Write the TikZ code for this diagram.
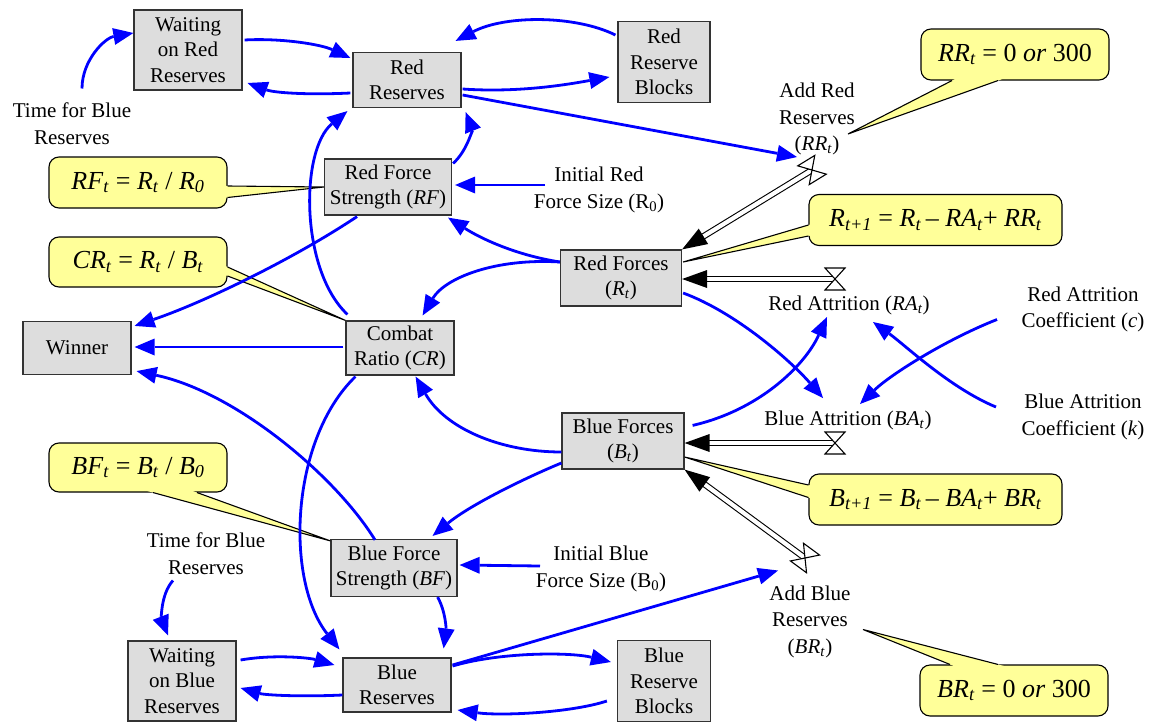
\documentclass[tikz,border=0pt]{standalone}
\usepackage{fontspec}
\setmainfont{Liberation Serif}
\usetikzlibrary{arrows.meta,calc}
\definecolor{cyellow}{HTML}{FFFF99}
\definecolor{boxgray}{HTML}{DDDDDD}
\definecolor{boxline}{HTML}{333333}
\definecolor{linkblue}{HTML}{0000FF}
\newcommand\boxfont{\fontsize{21pt}{25.5pt}\selectfont}
\newcommand\lblfont{\fontsize{21pt}{26.5pt}\selectfont}
\newcommand\calloutfont{\fontsize{26pt}{30pt}\selectfont}
\newcommand\vsub[2]{\textit{#1}\textsubscript{\textit{#2}}}
% pointer of a callout: base points #1, #2 on the box border, tip #3
\newcommand\callptr[3]{%
  \fill[cyellow] ($(#3)!1.08!(#1)$) -- (#3) -- ($(#3)!1.08!(#2)$) -- cycle;
  \draw[cline] (#1) -- (#3) -- (#2);}
% hourglass valve on a flow pipe
\newcommand\valve[2]{%
  \draw[valvestyle, shift={(#1)}, rotate=#2] (-10,-11) -- (10,-11) -- (-10,11) -- (10,11) -- cycle;}
\begin{document}
\begin{tikzpicture}[x=1pt,y=-1pt,
  box/.style={draw=boxline, fill=boxgray, line width=1.2pt, align=center, inner sep=0pt, font=\boxfont},
  lbl/.style={align=center, inner sep=0pt, font=\lblfont},
  callbox/.style={draw=black, fill=cyellow, line width=1.1pt, rounded corners=10pt, inner sep=0pt, font=\calloutfont},
  cline/.style={draw=black, line width=1.1pt, line join=miter},
  link/.style={draw=linkblue, line width=2.8pt, -{Triangle[length=20pt,width=17pt,line width=0pt]}},
  pipe/.style={draw=black, line width=1.1pt, double=white, double distance=4.2pt},
  pipehead/.style={draw=black, line width=1pt, -{Triangle[length=25pt,width=18pt,line width=0pt]}},
  valvestyle/.style={draw=black, fill=white, line width=1.1pt, line join=miter}]
\useasboundingbox (0,0) rectangle (1152,723);

% stocks and auxiliaries
\node[box, minimum width=108pt, minimum height=80pt] (wr) at (188,50) {Waiting\\on Red\\Reserves};
\node[box, minimum width=108pt, minimum height=55pt] (rr) at (407,80) {Red\\Reserves};
\node[box, minimum width=92pt, minimum height=81pt] (rb) at (664,62) {Red\\Reserve\\Blocks};
\node[box, minimum width=127pt, minimum height=56pt] (rf) at (388,187) {Red Force\\Strength (\textit{RF})};
\node[box, minimum width=108pt, minimum height=54pt] (cr) at (400,348) {Combat\\Ratio (\textit{CR})};
\node[box, minimum width=108pt, minimum height=53pt] (win) at (77,348) {Winner};
\node[box, minimum width=121pt, minimum height=56pt] (rfo) at (621,278) {Red Forces\\(\vsub{R}{t})};
\node[box, minimum width=122pt, minimum height=56pt] (bfo) at (623,441) {Blue Forces\\(\vsub{B}{t})};
\node[box, minimum width=126pt, minimum height=57pt] (bf) at (394,568) {Blue Force\\Strength (\textit{BF})};
\node[box, minimum width=108pt, minimum height=80pt] (wb) at (182,681) {Waiting\\on Blue\\Reserves};
\node[box, minimum width=108pt, minimum height=54pt] (br) at (397,685) {Blue\\Reserves};
\node[box, minimum width=93pt, minimum height=81pt] (bb) at (664,681) {Blue\\Reserve\\Blocks};

% free-standing variables
\node[lbl] (tfr) at (72,123.5) {Time for Blue\\Reserves};
\node[lbl] (arr) at (817,119) {Add Red\\Reserves\\(\vsub{RR}{t})};
\node[lbl] (irf) at (599,190) {Initial Red\\Force Size (R\textsubscript{0})};
\node[lbl] (rat) at (849,305) {Red Attrition (\vsub{RA}{t})};
\node[lbl] (bat) at (848,420) {Blue Attrition (\vsub{BA}{t})};
\node[lbl] (rac) at (1083,309.5) {Red Attrition\\Coefficient (\textit{c})};
\node[lbl] (bac) at (1083,417) {Blue Attrition\\Coefficient (\textit{k})};
\node[lbl] (tfb) at (206,553.5) {Time for Blue\\Reserves};
\node[lbl] (ibf) at (601,569) {Initial Blue\\Force Size (B\textsubscript{0})};
\node[lbl] (abr) at (810,621.5) {Add Blue\\Reserves\\(\vsub{BR}{t})};

% equation callouts
\node[callbox, minimum width=188pt, minimum height=51pt] (crr) at (1015,54.5) {\vsub{RR}{t} = 0 \textit{or} 300};
\coordinate (rrA) at ($(crr.south)+(-63,0)$);
\coordinate (rrB) at ($(crr.south)+(-17,0)$);
\coordinate (rrT) at ($(arr.center)+(31,15)$);
\callptr{rrA}{rrB}{rrT}

\node[callbox, minimum width=178pt, minimum height=51pt] (crf) at (138,182.5) {\vsub{RF}{t} = \vsub{R}{t} / \vsub{R}{0}};
\coordinate (rfA) at ($(crf.east)+(0,3.5)$);
\coordinate (rfB) at ($(crf.east)+(0,15)$);
\coordinate (rfT) at (rf.west);
\callptr{rfA}{rfB}{rfT}

\node[callbox, minimum width=178pt, minimum height=50pt] (ccr) at (138,262) {\vsub{CR}{t} = \vsub{R}{t} / \vsub{B}{t}};
\coordinate (crA) at ($(ccr.east)+(0,5)$);
\coordinate (crB) at ($(ccr.east)+(0,14)$);
\coordinate (crT) at (cr.north west);
\callptr{crA}{crB}{crT}

\node[callbox, minimum width=178pt, minimum height=49pt] (cbf) at (138,467.5) {\vsub{BF}{t} = \vsub{B}{t} / \vsub{B}{0}};
\coordinate (bfA) at ($(cbf.south)+(15,0)$);
\coordinate (bfB) at ($(cbf.south)+(59,0)$);
\coordinate (bfT) at ($(bf.north west)+(0,2)$);
\callptr{bfA}{bfB}{bfT}

\node[callbox, minimum width=253pt, minimum height=51pt] (crt) at (935.5,220) {\vsub{R}{t+1} = \vsub{R}{t}\,– \vsub{RA}{t}+ \vsub{RR}{t}};
\coordinate (rtA) at ($(crt.west)+(0,5)$);
\coordinate (rtB) at ($(crt.west)+(0,16)$);
\coordinate (rtT) at ($(rfo.east)+(1,-16)$);
\callptr{rtA}{rtB}{rtT}

\node[callbox, minimum width=253pt, minimum height=51pt] (cbt) at (935.5,499.5) {\vsub{B}{t+1} = \vsub{B}{t}\,– \vsub{BA}{t}+ \vsub{BR}{t}};
\coordinate (btA) at ($(cbt.west)+(0,-14.5)$);
\coordinate (btB) at ($(cbt.west)+(0,-2)$);
\coordinate (btT) at ($(bfo.east)+(0,16)$);
\callptr{btA}{btB}{btT}

\node[callbox, minimum width=188pt, minimum height=51pt] (cbr) at (1014,690.5) {\vsub{BR}{t} = 0 \textit{or} 300};
\coordinate (brA) at ($(cbr.north)+(-64,0)$);
\coordinate (brB) at ($(cbr.north)+(-16,0)$);
\coordinate (brT) at ($(abr.center)+(53,8)$);
\callptr{brA}{brB}{brT}

% flow pipes with their valves
\coordinate (vrr) at (812,170);
\coordinate (vra) at (835,279);
\coordinate (vba) at (835,443);
\coordinate (vbr) at (805,558);

\draw[pipe, shorten >=24pt] (vrr) -- (rfo.north east);
\draw[pipehead] ($(rfo.north east)!25pt!(vrr)$) -- (rfo.north east);
\valve{vrr}{31.5}

\draw[pipe, shorten >=24pt] (vra) -- ($(rfo.east)+(0,1)$);
\draw[pipehead] ($($(rfo.east)+(0,1)$)!25pt!(vra)$) -- ($(rfo.east)+(0,1)$);
\valve{vra}{0}

\draw[pipe, shorten >=24pt] (vba) -- ($(bfo.east)+(0,2)$);
\draw[pipehead] ($($(bfo.east)+(0,2)$)!25pt!(vba)$) -- ($(bfo.east)+(0,2)$);
\valve{vba}{0}

\draw[pipe, shorten >=24pt] (vbr) -- (bfo.south east);
\draw[pipehead] ($(bfo.south east)!25pt!(vbr)$) -- (bfo.south east);
\valve{vbr}{-36.3}

% information links
\draw[link] ($(tfr.center)+(10,-35)$) .. controls (82,60) and (105,38) .. ($(wr.west)+(0,-17)$);
\draw[link] ($(wr.east)+(2,-10)$) .. controls (280,38) and (320,44) .. ($(rr.west)+(-2,-22)$);
\draw[link] ($(rr.west)+(-2,13)$) .. controls (310,95) and (275,93) .. ($(wr.east)+(5,33)$);
\draw[link] ($(rb.west)+(-2,-27)$) .. controls (575,15) and (505,15) .. ($(rr.north east)+(-6,-11)$);
\draw[link] ($(rr.east)+(1,9)$) .. controls (520,93) and (570,84) .. ($(rb.west)+(-8,15)$);
\draw[link] ($(rr.east)+(1,15)$) -- ($(arr.center)+(-20,38)$);
\draw[link] ($(rf.north east)+(1,5)$) .. controls (468,150) and (472,128) .. ($(rr.south east)+(4,4)$);
\draw[link] ($(cr.north west)+(2,-6)$) .. controls (300,270) and (300,150) .. ($(rr.south west)+(-5,3)$);
\draw[link] ($(irf.center)+(-54,-5)$) -- ($(rf.east)+(3,-2)$);
\draw[link] ($(rfo.west)+(0,-16)$) .. controls (515,255) and (480,238) .. ($(rf.south east)+(-4,2)$);
\draw[link] ($(rfo.west)+(0,-16)$) .. controls (495,258) and (445,278) .. ($(cr.north east)+(-32,-5)$);
\draw[link] ($(rf.south)+(-31,1)$) .. controls (295,258) and (205,302) .. ($(win.north east)+(3,5)$);
\draw[link] ($(cr.west)+(-2,-1)$) -- ($(win.east)+(3,-1)$);
\draw[link] ($(bf.north)+(-19,1)$) .. controls (335,475) and (235,392) .. ($(win.south east)+(5,-4)$);
\draw[link] ($(cr.south west)+(10,1)$) .. controls (290,440) and (285,580) .. ($(br.north west)+(-3,-8)$);
\draw[link] ($(bfo.west)+(0,11)$) .. controls (500,452) and (445,428) .. ($(cr.south east)+(-39,1)$);
\draw[link] ($(bfo.west)+(0,22)$) .. controls (525,478) and (470,505) .. ($(bf.north east)+(-25,-3)$);
\draw[link] ($(ibf.center)+(-61,-3)$) -- ($(bf.east)+(2,-3)$);
\draw[link] ($(bf.south east)+(-20,0)$) .. controls (446,612) and (446,630) .. ($(br.north east)+(-8,-9)$);
\draw[link] ($(tfb.center)+(-33,27)$) .. controls (160,595) and (162,620) .. ($(wb.north)+(-14,-5)$);
\draw[link] ($(wb.east)+(4,-21)$) .. controls (275,654) and (310,658) .. ($(br.west)+(-8,-20)$);
\draw[link] ($(br.west)+(0,10)$) .. controls (300,697) and (265,695) .. ($(wb.east)+(4,7)$);
\draw[link] ($(br.east)+(1,-19)$) .. controls (500,652) and (570,652) .. ($(bb.west)+(-6,-19)$);
\draw[link] ($(bb.west)+(-10,20)$) .. controls (570,713) and (500,716) .. ($(br.east)+(6,25)$);
\draw[link] ($(br.east)+(1,-20)$) -- ($(abr.center)+(-32,-51)$);
\draw[link] ($(rfo.east)+(1,15)$) .. controls (735,312) and (790,360) .. ($(bat.center)+(-25,-22)$);
\draw[link] ($(bfo.north east)+(8,13)$) .. controls (760,410) and (805,365) .. ($(rat.center)+(-22,12)$);
\draw[link] ($(rac.center)+(-86,10)$) .. controls (945,340) and (890,375) .. ($(bat.center)+(12,-16)$);
\draw[link] ($(bac.center)+(-87,-10)$) .. controls (950,388) and (905,345) .. ($(rat.center)+(24,17)$);
\end{tikzpicture}
\end{document}
